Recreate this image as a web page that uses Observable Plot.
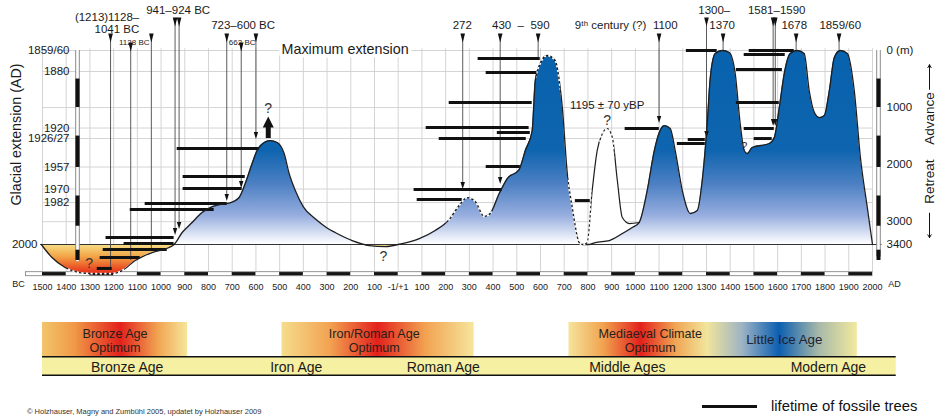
<!DOCTYPE html>
<html>
<head>
<meta charset="utf-8">
<script src="https://cdn.jsdelivr.net/npm/d3@7"></script>
<script src="https://cdn.jsdelivr.net/npm/@observablehq/plot@0.6"></script>
<style>
  html, body { margin: 0; padding: 0; background: #fff; }
  body { width: 937px; height: 416px; overflow: hidden; position: relative;
         font-family: "Liberation Sans", Arial, Helvetica, sans-serif; color: #111; }
  #chart svg { display: block; }
  .legend { position: absolute; left: 702px; top: 398px; display: flex; align-items: center;
            font-size: 14.8px; white-space: nowrap; color: #111; }
  .legend .swatch { width: 55px; height: 0; border-top: 3px solid #111; margin-right: 14px; }
  .credit { position: absolute; left: 27px; top: 407px; font-size: 7.5px; line-height: 9px; color: #333; white-space: nowrap; }
</style>
</head>
<body>
<div id="chart"></div>
<div class="legend"><span class="swatch"></span><span>lifetime of fossile trees</span></div>
<div class="credit">© Holzhauser, Magny and Zumbühl 2005, updatet by Holzhauser 2009</div>
<script>
const FONT = '"Liberation Sans", Arial, Helvetica, sans-serif';

// ---------- data ----------
// time axis: one tick per century, negative years are BC
const centuries = d3.range(-1500, 2001, 100);

// left axis: year of the historical glacier front; right axis: metres behind the 1859/60 maximum
const extensionYears  = ["1859/60", "1880", "1920", "1926/27", "1957", "1970", "1982", "2000"];
const extensionMetres = [0, 368, 1359, 1543, 2042, 2428, 2665, 3400];
const lengthTicks  = [0, 1000, 2000, 3000, 3400];
const lengthLabels = ["0 (m)", "1000", "2000", "3000", "3400"];
const extraGridMetres = [1000, 3000];

// reconstructed glacier front (metres behind maximum; > 3400 means shorter than in 2000)
const frontYears = [
  -1505, -1460, -1405, -1346, -1291, -1206, -1164, -1109, -1038, -966, -945,
  -911, -869, -827, -784, -742, -713, -671, -645, -616, -595, -565, -540, -510,
  -481, -460, -434, -400, -350, -300, -266, -194, -122, -55, 17, 89, 156, 215,
  257, 291, 325, 363, 388, 426, 460, 510, 536, 565, 578, 599, 628, 662, 683,
  692, 713, 734, 763, 776, 805, 831, 890, 945, 987, 1016, 1050, 1080, 1101,
  1122, 1147, 1168, 1198, 1232, 1261, 1282, 1303, 1316, 1337, 1367, 1396, 1421,
  1442, 1459, 1472, 1493, 1565, 1586, 1607, 1628, 1653, 1683, 1712, 1733, 1755,
  1776, 1797, 1818, 1839, 1864, 1894, 1923, 1949, 1978, 2000
];
const frontMetres = [
  3400, 3629, 3804, 3892, 3909, 3909, 3857, 3681, 3541, 3453, 3400,
  3190, 3015, 2840, 2735, 2690, 2675, 2577, 2331, 1981, 1753, 1613, 1578, 1613,
  1806, 2156, 2454, 2740, 2950, 3110, 3190, 3331, 3418, 3436, 3383, 3296, 3155, 2963,
  2717, 2577, 2647, 2910, 2857, 2507, 2244, 2086, 1753, 1402, 526, 228, 88, 175, 649,
  999, 2156, 2752, 3366, 3400, 3400, 3366, 3331, 3208, 3103, 3015, 2454, 1753, 1437,
  1315, 1367, 1753, 2454, 2857, 2805, 2279, 1280, 473, 53, 0, 35, 403,
  1280, 1753, 1806, 1700, 1630, 1525, 999, 403, 53, 0, 53, 701, 1087,
  1175, 1139, 701, 123, 0, 53, 701, 1876, 2752, 3400
];
// uncertain 9th-century advance (1195 ± 70 yBP)
const ninthYears  = [780, 797, 818, 839, 861, 881, 903, 924, 945, 975, 1016];
const ninthMetres = [3400, 3366, 2454, 1753, 1455, 1367, 1525, 2279, 2928, 3033, 3015];
// stretches of the outline that are only inferred
const uncertainFront = [[-1395, -1150], [205, 395], [583, 683], [716, 778]];
const uncertainNinth = [[780, 815], [848, 912]];

// fossil trees: life span and the glacier position they record
const treeFrom   = [-932, -907, -907, -1067, -1130, -1232, -1156, -1244, -1257, -1269,
                    337, 371, 215, 118, 418, 173, 371, 67, 80, 747,
                    957, 1223, 1177, 1215, 1480, 1459, 1426, 1426, 1459, 1501];
const treeTo     = [-587, -645, -658, -721, -776, -945, -945, -974, -1088, -1206,
                    599, 586, 565, 552, 557, 540, 515, 439, 270, 810,
                    1101, 1295, 1295, 1345, 1670, 1632, 1620, 1607, 1586, 1577];
const treeMetres = [1718, 2209, 2419, 2682, 2788, 3278, 3383, 3488, 3628, 3820,
                    140, 386, 912, 1350, 1437, 1543, 2033, 2437, 2612, 2630,
                    1367, 1560, 1630, 0, 0, 70, 333, 912, 1367, 1543];

// dated advances: year, arrow tier, depth reached, whether the line ends in a tip
const dateYears  = [-1213, -1128, -1041, -941, -924, -723, -662, -600, 272, 430, 590,
                    1100, 1300, 1370, 1581, 1590, 1678, 1859];
const dateTiers  = [1, 2, 1, 0, 0, 1, 2, 1, 1, 1, 1, 1, 0, 1, 0, 0, 1, 1];
const dateEnds   = [3857, 3681, 3471, 3226, 3120, 2630, 2401, 1543, 2419, 2331, 123,
                    1262, 1525, 0, 1315, 1315, 0, 0];
const dateTipped = [false, false, false, true, true, true, true, true, true, true, false,
                    true, true, false, true, true, false, false];

// labels over the arrows
const labelTexts = ["(1213)1128–", "1041 BC", "941–924 BC", "723–600 BC",
                    "272", "430\u00a0\u00a0–\u00a0\u00a0590", "9ᵗʰ century (?)", "1100",
                    "1300–", "1370", "1581–1590", "1678", "1859/60"];
const labelYears = [-1092, -1092, -928, -654, 270, 517, 1046, 1126, 1400, 1366, 1596, 1670, 1864];
const labelRows  = [1, 3, 0, 2, 2, 2, 2, 2, 0, 2, 0, 2, 2];
const labelAlign = ["end", "end", "middle", "middle", "middle", "middle", "end", "middle",
                    "end", "middle", "middle", "middle", "middle"];
const smallLabelTexts = ["1128 BC", "662 BC"];
const smallLabelYears = [-1113, -658];

// question marks and other notes on the curve
const queryYears  = [-1303, -63, -548, 881];
const queryMetres = [3734, 3611, 1017, 1227];
const smallQueryYears = [1459];
const smallQueryMetres = [1683];
const yBPText = "1195 ± 70 yBP";
const yBPYear = 881, yBPMetres = 964;
const maxText = "Maximum extension";
const maxYear = -224;
const upwardArrowYear = -548;
const upwardArrowMetres = [1543, 1350];

// scale bars
const scaleBarBlocks = [[500, 1000], [1500, 2050], [2550, 3080], [3500, 3680]];
const scaleBarEnd = 3700;

// climate phases and cultural periods
const bronzeOptimum = [-1500, -888];
const ironOptimum = [-490, 320];
const medievalOptimum = [720, 1936];
const climateFirstLines = ["Bronze Age", "Iron/Roman Age", "Mediaeval Climate"];
const climateSecondLines = ["Optimum", "Optimum", "Optimum"];
const climateYears = [-1194, -101, 1063];
const iceAgeText = "Little Ice Age";
const iceAgeYear = 1628;
const eraNames = ["Bronze Age", "Iron Age", "Roman Age", "Middle Ages", "Modern Age"];
const eraStarts = [-1500, -850, -15, 410, 1506];
const eraEnd = 2100;
const eraLabelYears = [-1143, -430, 190, 966, 1814];

// ---------- tables ----------
const front = frontYears.map((year, i) => ({year, m: frontMetres[i]}));
const ninth = ninthYears.map((year, i) => ({year, m: ninthMetres[i]}));
const trees = treeFrom.map((from, i) => ({from, to: treeTo[i], m: treeMetres[i]}));
const dates = dateYears.map((year, i) => ({year, tier: dateTiers[i], end: dateEnds[i], tipped: dateTipped[i]}));
const labels = labelTexts.map((text, i) => ({text, year: labelYears[i], row: labelRows[i], align: labelAlign[i]}));
const eras = eraNames.map((name, i) => ({name, start: eraStarts[i], end: i + 1 < eraStarts.length ? eraStarts[i + 1] : eraEnd, mid: eraLabelYears[i]}));
const axisYears = extensionYears.slice(0, -1), axisYearMetres = extensionMetres.slice(0, -1);

// ---------- layout ----------
const TIER_TOP = [-500, -219, -61];          // metres above the maximum line where arrow tiers start
const LABEL_ROW = [10, 17, 24.5, 28.5];       // px from top for each label row
const GRID = "#cfcfcf";
const xScale = {domain: [-1500, 2000], range: [42, 872]};

const arrowDown = {draw(c) { c.moveTo(-2.3, -4.5); c.lineTo(2.3, -4.5); c.lineTo(0, 4.5); c.closePath(); }};
const tipDown   = {draw(c) { c.moveTo(-2.2, -3.5); c.lineTo(2.2, -3.5); c.lineTo(0, 3.5); c.closePath(); }};
const headUp    = {draw(c) { c.moveTo(-5.5, 5); c.lineTo(5.5, 5); c.lineTo(0, -6); c.closePath(); }};

const ICE_BOTTOM = 3930;
const ICE_STOPS = [[0, "#0862ad"], [1750, "#0e64af"], [2350, "#4d80c3"], [2900, "#97aedf"],
                   [3400, "#ffffff"], [3400, "#f6df88"], [3620, "#f2a446"], [3800, "#ec5a28"], [3930, "#e3281c"]];

function iceDefs(index, {y}) {
  const defs = d3.create("svg:defs");
  const g = defs.append("linearGradient").attr("id", "iceFill").attr("gradientUnits", "userSpaceOnUse")
    .attr("x1", 0).attr("x2", 0).attr("y1", y(0)).attr("y2", y(ICE_BOTTOM));
  for (const [m, c] of ICE_STOPS) g.append("stop").attr("offset", m / ICE_BOTTOM).attr("stop-color", c);
  return defs.node();
}

// white dashes over the inferred parts of an outline, clipped to the given year spans
function inferred(data, spans, id) {
  return (index, {x, y}) => {
    const g = d3.create("svg:g");
    const clip = g.append("clipPath").attr("id", id);
    for (const [a, b] of spans)
      clip.append("rect").attr("x", x(a)).attr("y", 0).attr("width", x(b) - x(a)).attr("height", 320);
    const line = d3.line().x(d => x(d.year)).y(d => y(d.m)).curve(d3.curveMonotoneX);
    g.append("path").attr("d", line(data)).attr("fill", "none").attr("stroke", "#fff")
      .attr("stroke-width", 1.8).attr("stroke-dasharray", "2.2,2.4")
      .attr("clip-path", `url(#${id})`).attr("transform", "translate(0.5,0.5)");
    return g.node();
  };
}

const labelMarks = [];
for (const row of [0, 1, 2, 3]) for (const align of ["start", "middle", "end"]) {
  const sub = labels.filter(d => d.row === row && d.align === align);
  if (sub.length) labelMarks.push(Plot.text(sub, {x: "year", frameAnchor: "top", dy: LABEL_ROW[row],
    text: "text", textAnchor: align, lineAnchor: "middle", fontSize: 11.5, fill: "#1a1a1a"}));
}

const blackCenturies = centuries.filter((c, i) => i % 2 === 0 && c < 2000);

const main = Plot.plot({
  width: 937, height: 300,
  marginLeft: 72, marginRight: 55, marginTop: 0, marginBottom: 22,
  x: xScale,
  y: {domain: [0, 3400], range: [50, 244]},
  style: {fontFamily: FONT, fontSize: "11.5px", color: "#1a1a1a", background: "#fff", overflow: "visible"},
  marks: [
    iceDefs,
    // grid
    Plot.ruleX(centuries, {y1: -30, y2: 3900, stroke: GRID, strokeWidth: 0.9}),
    Plot.ruleY(axisYearMetres.concat(extraGridMetres), {x1: -1500, x2: 2000, stroke: GRID, strokeWidth: 0.9}),
    // century bar along the time axis
    Plot.rect([[-1570, 2000]], {x1: d => d[0], x2: d => d[1], y1: 3885, y2: 3955, fill: "#fff", stroke: "#8a8a8a", strokeWidth: 0.9}),
    Plot.rect(blackCenturies, {x1: d => d, x2: d => d + 100, y1: 3892, y2: 3948, fill: "#161616"}),
    // glacier fills
    Plot.areaY(ninth, {x: "year", y1: 3400, y2: "m", fill: "#fff", curve: "monotone-x"}),
    Plot.areaY(front, {x: "year", y1: 3400, y2: "m", fill: "url(#iceFill)", curve: "monotone-x"}),
    // present-day (2000) front
    Plot.ruleY([3400], {x1: -1508, x2: 2040, stroke: "#333", strokeWidth: 1.1}),
    // scale bars beside both axes
    Plot.ruleX([-1500], {y1: 0, y2: scaleBarEnd, dx: 35, stroke: "#8a8a8a", strokeWidth: 4.6}),
    Plot.ruleX([-1500], {y1: 0, y2: scaleBarEnd, dx: 35, stroke: "#fff", strokeWidth: 2.6}),
    Plot.ruleX(scaleBarBlocks, {x: () => -1500, y1: d => d[0], y2: d => d[1], dx: 35, stroke: "#111", strokeWidth: 4}),
    Plot.ruleX([2000], {y1: 0, y2: scaleBarEnd - 80, dx: 6, stroke: "#8a8a8a", strokeWidth: 4.6}),
    Plot.ruleX([2000], {y1: 0, y2: scaleBarEnd - 80, dx: 6, stroke: "#fff", strokeWidth: 2.6}),
    Plot.ruleX(scaleBarBlocks, {x: () => 2000, y1: d => d[0], y2: d => d[1], dx: 6, stroke: "#111", strokeWidth: 4}),
    // dated advances
    Plot.ruleX(dates, {x: "year", y1: d => TIER_TOP[d.tier], y2: d => d.tipped ? d.end - 60 : d.end, stroke: "#4a4a4a", strokeWidth: 0.9}),
    Plot.dot(dates, {x: "year", y: d => TIER_TOP[d.tier], symbol: arrowDown, fill: "#111", stroke: "none"}),
    Plot.dot(dates.filter(d => d.tipped), {x: "year", y: "end", dy: -3, symbol: tipDown, fill: "#111", stroke: "none"}),
    // fossil trees
    Plot.ruleY(trees, {y: "m", x1: "from", x2: "to", stroke: "#111", strokeWidth: 3}),
    // outlines
    Plot.line(ninth, {x: "year", y: "m", stroke: "#1e1e1e", strokeWidth: 1.2, curve: "monotone-x"}),
    Plot.line(front, {x: "year", y: "m", stroke: "#1e1e1e", strokeWidth: 1.3, curve: "monotone-x"}),
    inferred(front, uncertainFront, "inferredFront"),
    inferred(ninth, uncertainNinth, "inferredNinth"),
    // notes on the curve
    Plot.ruleX([upwardArrowYear], {y1: upwardArrowMetres[0], y2: upwardArrowMetres[1], stroke: "#111", strokeWidth: 5}),
    Plot.dot([upwardArrowYear], {x: d => d, y: () => upwardArrowMetres[1], dy: -5, symbol: headUp, fill: "#111", stroke: "none"}),
    Plot.text(queryYears, {x: d => d, y: (d, i) => queryMetres[i], text: () => "?", fontSize: 14, fill: "#333"}),
    Plot.text(smallQueryYears, {x: d => d, y: (d, i) => smallQueryMetres[i], text: () => "?", fontSize: 11, fill: "#333"}),
    Plot.text([yBPText], {x: () => yBPYear, y: () => yBPMetres, fontSize: 11.5, fill: "#1a1a1a"}),
    Plot.text([maxText], {x: () => maxYear, y: () => 0, dy: -1.5, fontSize: 14.3, fill: "#1a1a1a",
      stroke: "#fff", strokeWidth: 7, paintOrder: "stroke"}),
    // labels over the arrows
    ...labelMarks,
    Plot.text(smallLabelTexts, {x: (d, i) => smallLabelYears[i], frameAnchor: "top", dy: 39, fontSize: 8, fill: "#1a1a1a"}),
    // axes
    Plot.axisX({ticks: centuries, tickFormat: d => d < 0 ? String(-d) : d === 0 ? "-1/+1" : String(d),
      tickSize: 0, tickPadding: 5, fontSize: 9, label: null}),
    Plot.text(["BC"], {x: () => -1500, frameAnchor: "bottom", dx: -24, dy: 8.5, fontSize: 9}),
    Plot.text(["AD"], {x: () => 2000, frameAnchor: "bottom", dx: 22, dy: 8.5, fontSize: 9}),
    Plot.axisY({anchor: "left", ticks: axisYearMetres, tickFormat: d => axisYears[axisYearMetres.indexOf(d)],
      tickSize: 0, tickPadding: 3, fontSize: 11.5, label: null}),
    // the 2000 label sits left of the ice bowl
    Plot.text([extensionYears[extensionYears.length - 1]], {x: () => -1500, y: () => extensionMetres[extensionMetres.length - 1],
      dx: -5, textAnchor: "end", fontSize: 11.5}),
    Plot.axisY({anchor: "right", ticks: lengthTicks, tickFormat: d => lengthLabels[lengthTicks.indexOf(d)],
      tickSize: 0, tickPadding: 4, fontSize: 11.5, label: null}),
    Plot.text(["Glacial extension (AD)"], {frameAnchor: "left", dx: -56, dy: -5, rotate: -90, textAnchor: "middle", fontSize: 14.3}),
    Plot.text(["Advance"], {x: () => 2000, y: () => 1192, dx: 57, rotate: -90, fontSize: 13.5}),
    Plot.text(["Retreat"], {x: () => 2000, y: () => 2296, dx: 57, rotate: -90, fontSize: 13.5}),
    Plot.arrow([0], {x1: 2000, x2: 2000, y1: 680, y2: 250, dx: 57, stroke: "#111", strokeWidth: 1, headLength: 5}),
    Plot.arrow([0], {x1: 2000, x2: 2000, y1: 2850, y2: 3280, dx: 57, stroke: "#111", strokeWidth: 1, headLength: 5})
  ]
});

// ---------- climate phases and cultural periods ----------
const BAND_STOPS = {
  optBronze: [[0, "#f2c56c"], [0.22, "#f09a47"], [0.54, "#e3211c"], [0.8, "#f1a552"], [1, "#f6e59c"]],
  optIron: [[0, "#f5dd8c"], [0.25, "#f2a352"], [0.5, "#e3211c"], [0.75, "#f2a352"], [1, "#f6e59c"]],
  optMedieval: [[0, "#f5e49c"], [0.12, "#f1a34f"], [0.25, "#e3211c"], [0.37, "#f0a553"], [0.48, "#f1e59c"],
                [0.6, "#9fb5c4"], [0.73, "#0c5fb1"], [0.87, "#a9baa9"], [1, "#f3e99e"]]
};
function bandDefs() {
  const defs = d3.create("svg:defs");
  for (const [id, stops] of Object.entries(BAND_STOPS)) {
    const g = defs.append("linearGradient").attr("id", id).attr("x1", 0).attr("x2", 1).attr("y1", 0).attr("y2", 0);
    for (const [o, c] of stops) g.append("stop").attr("offset", o).attr("stop-color", c);
  }
  return defs.node();
}

const periods = Plot.plot({
  width: 937, height: 80,
  marginLeft: 0, marginRight: 0, marginTop: 0, marginBottom: 0,
  x: {...xScale, axis: null},
  y: {type: "band", domain: ["climate", "era"], range: [22, 76], padding: 0, round: false, axis: null},
  style: {fontFamily: FONT, fontSize: "13px", color: "#2a1e18", background: "#fff", overflow: "visible"},
  marks: [
    bandDefs,
    Plot.barX([bronzeOptimum], {x1: d => d[0], x2: d => d[1], y: () => "climate", insetBottom: -7, fill: "url(#optBronze)"}),
    Plot.barX([ironOptimum], {x1: d => d[0], x2: d => d[1], y: () => "climate", insetBottom: -7, fill: "url(#optIron)"}),
    Plot.barX([medievalOptimum], {x1: d => d[0], x2: d => d[1], y: () => "climate", insetBottom: -7, fill: "url(#optMedieval)"}),
    Plot.text(climateFirstLines, {x: (d, i) => climateYears[i], y: () => "climate", dy: -2.5, fontSize: 12.6, fill: "#2a1e18"}),
    Plot.text(climateSecondLines, {x: (d, i) => climateYears[i], y: () => "climate", dy: 12, fontSize: 12.6, fill: "#2a1e18"}),
    Plot.text([iceAgeText], {x: () => iceAgeYear, y: () => "climate", dy: 3.5, fontSize: 13.3, fill: "#1f2230"}),
    Plot.barX([[eraStarts[0], eraEnd]], {x1: d => d[0], x2: d => d[1], y: () => "era", insetTop: 8, fill: "#f6f0a2"}),
    Plot.barX([[eraStarts[0], eraEnd]], {x1: d => d[0], x2: d => d[1], y: () => "era", insetTop: 7, insetBottom: 18.5, fill: "#111"}),
    Plot.barX([[eraStarts[0], eraEnd]], {x1: d => d[0], x2: d => d[1], y: () => "era", insetTop: 25.5, fill: "#111"}),
    Plot.ruleX(eraStarts.slice(1), {y: () => "era", insetTop: 9, insetBottom: 2, stroke: "#222", strokeWidth: 1.4, strokeDasharray: "2,2"}),
    Plot.text(eras, {x: "mid", y: () => "era", dy: 4.5, text: "name", fontSize: 14, fill: "#1a1a1a"})
  ]
});

const chart = document.getElementById("chart");
chart.append(main, periods);
</script>
</body>
</html>
